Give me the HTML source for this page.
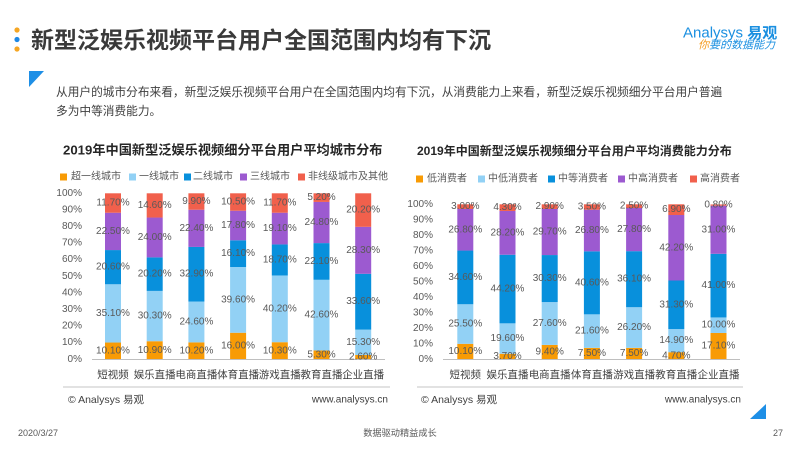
<!DOCTYPE html>
<html><head><meta charset="utf-8"><style>
html,body{margin:0;padding:0;background:#fff;}
svg{display:block;}
text{font-family:"Liberation Sans","Noto Sans CJK SC",sans-serif;}
.t{fill:#595959;font-size:10px;}
.yl{fill:#595959;font-size:10px;text-anchor:end;dominant-baseline:central;}
.bl{fill:#595959;font-size:10px;text-anchor:middle;dominant-baseline:central;}
.cl{fill:#404040;font-size:10.5px;text-anchor:middle;dominant-baseline:central;}
.lg{fill:#595959;font-size:10px;dominant-baseline:central;}
</style></head><body>
<svg width="800" height="450" viewBox="0 0 800 450" xmlns="http://www.w3.org/2000/svg">
<rect width="800" height="450" fill="#fff"/>
<!-- header -->
<circle cx="17" cy="30" r="2.6" fill="#f5a623"/>
<circle cx="17" cy="39.5" r="2.6" fill="#1e88e5"/>
<circle cx="17" cy="49" r="2.6" fill="#f5a623"/>
<text x="31" y="40" font-size="23" font-weight="bold" fill="#3a3a3a" dominant-baseline="central">新型泛娱乐视频平台用户全国范围内均有下沉</text>
<text x="683" y="33" font-size="15" fill="#1a8fe0" dominant-baseline="central">Analysys <tspan font-weight="bold">易观</tspan></text>
<text x="698" y="45.5" font-size="11" font-style="italic" fill="#1a8fe0" dominant-baseline="central"><tspan fill="#f39a1e">你</tspan>要的数据能力</text>
<polygon points="29,71 44,71 29,87" fill="#1e8fe6"/>
<text x="56" y="92.5" font-size="11.7" fill="#404040" dominant-baseline="central">从用户的城市分布来看，新型泛娱乐视频平台用户在全国范围内均有下沉，从消费能力上来看，新型泛娱乐视频细分平台用户普遍</text>
<text x="56" y="111.5" font-size="11.7" fill="#404040" dominant-baseline="central">多为中等消费能力。</text>

<!-- LEFT CHART -->
<text x="63" y="150" font-size="13.2" font-weight="bold" fill="#262626" dominant-baseline="central">2019年中国新型泛娱乐视频细分平台用户平均城市分布</text>
<rect x="60" y="173.5" width="7" height="7" fill="#f89b05"/><text class="lg" x="71" y="177">超一线城市</text>
<rect x="129" y="173.5" width="7" height="7" fill="#92d1f5"/><text class="lg" x="139" y="177">一线城市</text>
<rect x="184" y="173.5" width="7" height="7" fill="#0890dc"/><text class="lg" x="193" y="177">二线城市</text>
<rect x="240" y="173.5" width="7" height="7" fill="#9c5ad0"/><text class="lg" x="250" y="177">三线城市</text>
<rect x="298" y="173.5" width="7" height="7" fill="#f1604c"/><text class="lg" x="308" y="177">非线级城市及其他</text>

<text class="yl" x="82" y="359.3">0%</text>
<text class="yl" x="82" y="342.7">10%</text>
<text class="yl" x="82" y="326.1">20%</text>
<text class="yl" x="82" y="309.5">30%</text>
<text class="yl" x="82" y="292.9">40%</text>
<text class="yl" x="82" y="276.3">50%</text>
<text class="yl" x="82" y="259.7">60%</text>
<text class="yl" x="82" y="243.1">70%</text>
<text class="yl" x="82" y="226.5">80%</text>
<text class="yl" x="82" y="209.9">90%</text>
<text class="yl" x="82" y="193.3">100%</text>

<!-- bar1 -->
<rect x="105" y="342.53" width="16" height="16.77" fill="#f89b05"/>
<rect x="105" y="284.27" width="16" height="58.26" fill="#92d1f5"/>
<rect x="105" y="250.07" width="16" height="34.2" fill="#0890dc"/>
<rect x="105" y="212.72" width="16" height="37.35" fill="#9c5ad0"/>
<rect x="105" y="193.3" width="16" height="19.42" fill="#f1604c"/>
<!-- bar2 -->
<rect x="146.7" y="341.21" width="16" height="18.09" fill="#f89b05"/>
<rect x="146.7" y="290.91" width="16" height="50.3" fill="#92d1f5"/>
<rect x="146.7" y="257.38" width="16" height="33.53" fill="#0890dc"/>
<rect x="146.7" y="217.54" width="16" height="39.84" fill="#9c5ad0"/>
<rect x="146.7" y="193.3" width="16" height="24.24" fill="#f1604c"/>
<!-- bar3 -->
<rect x="188.4" y="342.37" width="16" height="16.93" fill="#f89b05"/>
<rect x="188.4" y="301.53" width="16" height="40.84" fill="#92d1f5"/>
<rect x="188.4" y="246.92" width="16" height="54.61" fill="#0890dc"/>
<rect x="188.4" y="209.73" width="16" height="37.19" fill="#9c5ad0"/>
<rect x="188.4" y="193.3" width="16" height="16.43" fill="#f1604c"/>
<!-- bar4 -->
<rect x="230.1" y="332.74" width="16" height="26.56" fill="#f89b05"/>
<rect x="230.1" y="267.0" width="16" height="65.74" fill="#92d1f5"/>
<rect x="230.1" y="240.28" width="16" height="26.72" fill="#0890dc"/>
<rect x="230.1" y="210.73" width="16" height="29.55" fill="#9c5ad0"/>
<rect x="230.1" y="193.3" width="16" height="17.43" fill="#f1604c"/>
<!-- bar5 -->
<rect x="271.8" y="342.2" width="16" height="17.1" fill="#f89b05"/>
<rect x="271.8" y="275.47" width="16" height="66.73" fill="#92d1f5"/>
<rect x="271.8" y="244.43" width="16" height="31.04" fill="#0890dc"/>
<rect x="271.8" y="212.72" width="16" height="31.71" fill="#9c5ad0"/>
<rect x="271.8" y="193.3" width="16" height="19.42" fill="#f1604c"/>
<!-- bar6 -->
<rect x="313.5" y="350.5" width="16" height="8.8" fill="#f89b05"/>
<rect x="313.5" y="279.79" width="16" height="70.71" fill="#92d1f5"/>
<rect x="313.5" y="243.1" width="16" height="36.69" fill="#0890dc"/>
<rect x="313.5" y="201.93" width="16" height="41.17" fill="#9c5ad0"/>
<rect x="313.5" y="193.3" width="16" height="8.63" fill="#f1604c"/>
<!-- bar7 -->
<rect x="355.2" y="354.98" width="16" height="4.32" fill="#f89b05"/>
<rect x="355.2" y="329.59" width="16" height="25.39" fill="#92d1f5"/>
<rect x="355.2" y="273.81" width="16" height="55.78" fill="#0890dc"/>
<rect x="355.2" y="226.83" width="16" height="46.98" fill="#9c5ad0"/>
<rect x="355.2" y="193.3" width="16" height="33.53" fill="#f1604c"/>

<line x1="92" y1="359.5" x2="385" y2="359.5" stroke="#bfbfbf" stroke-width="1"/>

<!-- left labels -->
<text class="bl" x="113" y="350.9">10.10%</text>
<text class="bl" x="113" y="313.4">35.10%</text>
<text class="bl" x="113" y="267.2">20.60%</text>
<text class="bl" x="113" y="231.4">22.50%</text>
<text class="bl" x="113" y="203.0">11.70%</text>

<text class="bl" x="154.7" y="350.3">10.90%</text>
<text class="bl" x="154.7" y="316.1">30.30%</text>
<text class="bl" x="154.7" y="274.1">20.20%</text>
<text class="bl" x="154.7" y="237.5">24.00%</text>
<text class="bl" x="154.7" y="205.4">14.60%</text>

<text class="bl" x="196.4" y="350.8">10.20%</text>
<text class="bl" x="196.4" y="322.0">24.60%</text>
<text class="bl" x="196.4" y="274.2">32.90%</text>
<text class="bl" x="196.4" y="228.3">22.40%</text>
<text class="bl" x="196.4" y="201.5">9.90%</text>

<text class="bl" x="238.1" y="346.0">16.00%</text>
<text class="bl" x="238.1" y="299.9">39.60%</text>
<text class="bl" x="238.1" y="253.6">16.10%</text>
<text class="bl" x="238.1" y="225.5">17.80%</text>
<text class="bl" x="238.1" y="202.0">10.50%</text>

<text class="bl" x="279.8" y="350.75">10.30%</text>
<text class="bl" x="279.8" y="308.8">40.20%</text>
<text class="bl" x="279.8" y="260.0">18.70%</text>
<text class="bl" x="279.8" y="228.6">19.10%</text>
<text class="bl" x="279.8" y="203.0">11.70%</text>

<text class="bl" x="321.5" y="354.9">5.30%</text>
<text class="bl" x="321.5" y="315.1">42.60%</text>
<text class="bl" x="321.5" y="261.4">22.10%</text>
<text class="bl" x="321.5" y="222.5">24.80%</text>
<text class="bl" x="321.5" y="197.6">5.20%</text>

<text class="bl" x="363.2" y="357.1">2.60%</text>
<text class="bl" x="363.2" y="342.3">15.30%</text>
<text class="bl" x="363.2" y="301.7">33.60%</text>
<text class="bl" x="363.2" y="250.3">28.30%</text>
<text class="bl" x="363.2" y="210.1">20.20%</text>

<text class="cl" x="113" y="375">短视频</text>
<text class="cl" x="154.7" y="375">娱乐直播</text>
<text class="cl" x="196.4" y="375">电商直播</text>
<text class="cl" x="238.1" y="375">体育直播</text>
<text class="cl" x="279.8" y="375">游戏直播</text>
<text class="cl" x="321.5" y="375">教育直播</text>
<text class="cl" x="363.2" y="375">企业直播</text>

<line x1="63" y1="387" x2="390" y2="387" stroke="#d9d9d9" stroke-width="1.5"/>
<text x="68" y="400" font-size="10.5" fill="#404040" dominant-baseline="central">© Analysys 易观</text>
<text x="388" y="400" font-size="10" fill="#404040" text-anchor="end" dominant-baseline="central">www.analysys.cn</text>

<!-- RIGHT CHART -->
<text x="417" y="151" font-size="12" font-weight="bold" fill="#262626" dominant-baseline="central">2019年中国新型泛娱乐视频细分平台用户平均消费能力分布</text>
<rect x="416" y="175.5" width="7" height="7" fill="#f89b05"/><text class="lg" x="427" y="179">低消费者</text>
<rect x="478" y="175.5" width="7" height="7" fill="#92d1f5"/><text class="lg" x="488" y="179">中低消费者</text>
<rect x="548" y="175.5" width="7" height="7" fill="#0890dc"/><text class="lg" x="558" y="179">中等消费者</text>
<rect x="618" y="175.5" width="7" height="7" fill="#9c5ad0"/><text class="lg" x="628" y="179">中高消费者</text>
<rect x="690" y="175.5" width="7" height="7" fill="#f1604c"/><text class="lg" x="700" y="179">高消费者</text>

<text class="yl" x="433" y="359.5">0%</text>
<text class="yl" x="433" y="344.0">10%</text>
<text class="yl" x="433" y="328.5">20%</text>
<text class="yl" x="433" y="312.9">30%</text>
<text class="yl" x="433" y="297.4">40%</text>
<text class="yl" x="433" y="281.9">50%</text>
<text class="yl" x="433" y="266.4">60%</text>
<text class="yl" x="433" y="250.9">70%</text>
<text class="yl" x="433" y="235.3">80%</text>
<text class="yl" x="433" y="219.8">90%</text>
<text class="yl" x="433" y="204.3">100%</text>

<!-- r bar1 -->
<rect x="457.3" y="343.82" width="16" height="15.68" fill="#f89b05"/>
<rect x="457.3" y="304.25" width="16" height="39.57" fill="#92d1f5"/>
<rect x="457.3" y="250.55" width="16" height="53.7" fill="#0890dc"/>
<rect x="457.3" y="208.96" width="16" height="41.59" fill="#9c5ad0"/>
<rect x="457.3" y="204.3" width="16" height="4.66" fill="#f1604c"/>
<!-- r bar2 -->
<rect x="499.5" y="353.76" width="16" height="5.74" fill="#f89b05"/>
<rect x="499.5" y="323.34" width="16" height="30.42" fill="#92d1f5"/>
<rect x="499.5" y="254.74" width="16" height="68.6" fill="#0890dc"/>
<rect x="499.5" y="210.97" width="16" height="43.77" fill="#9c5ad0"/>
<rect x="499.5" y="204.3" width="16" height="6.67" fill="#f1604c"/>
<!-- r bar3 -->
<rect x="541.7" y="344.91" width="16" height="14.59" fill="#f89b05"/>
<rect x="541.7" y="302.08" width="16" height="42.83" fill="#92d1f5"/>
<rect x="541.7" y="255.05" width="16" height="47.03" fill="#0890dc"/>
<rect x="541.7" y="208.96" width="16" height="46.09" fill="#9c5ad0"/>
<rect x="541.7" y="204.3" width="16" height="4.66" fill="#f1604c"/>
<!-- r bar4 -->
<rect x="583.9" y="347.86" width="16" height="11.64" fill="#f89b05"/>
<rect x="583.9" y="314.34" width="16" height="33.52" fill="#92d1f5"/>
<rect x="583.9" y="251.33" width="16" height="63.01" fill="#0890dc"/>
<rect x="583.9" y="209.73" width="16" height="41.6" fill="#9c5ad0"/>
<rect x="583.9" y="204.3" width="16" height="5.43" fill="#f1604c"/>
<!-- r bar5 -->
<rect x="626.1" y="347.86" width="16" height="11.64" fill="#f89b05"/>
<rect x="626.1" y="307.2" width="16" height="40.66" fill="#92d1f5"/>
<rect x="626.1" y="251.17" width="16" height="56.03" fill="#0890dc"/>
<rect x="626.1" y="208.02" width="16" height="43.15" fill="#9c5ad0"/>
<rect x="626.1" y="204.3" width="16" height="3.72" fill="#f1604c"/>
<!-- r bar6 -->
<rect x="668.3" y="352.21" width="16" height="7.29" fill="#f89b05"/>
<rect x="668.3" y="329.08" width="16" height="23.13" fill="#92d1f5"/>
<rect x="668.3" y="280.5" width="16" height="48.58" fill="#0890dc"/>
<rect x="668.3" y="215.01" width="16" height="65.49" fill="#9c5ad0"/>
<rect x="668.3" y="204.3" width="16" height="10.71" fill="#f1604c"/>
<!-- r bar7 -->
<rect x="710.5" y="332.96" width="16" height="26.54" fill="#f89b05"/>
<rect x="710.5" y="317.44" width="16" height="15.52" fill="#92d1f5"/>
<rect x="710.5" y="253.81" width="16" height="63.63" fill="#0890dc"/>
<rect x="710.5" y="205.7" width="16" height="48.11" fill="#9c5ad0"/>
<rect x="710.5" y="204.45" width="16" height="1.25" fill="#f1604c"/>

<line x1="443" y1="359.5" x2="740" y2="359.5" stroke="#bfbfbf" stroke-width="1"/>

<text class="bl" x="465.3" y="351.7">10.10%</text>
<text class="bl" x="465.3" y="324.0">25.50%</text>
<text class="bl" x="465.3" y="277.4">34.60%</text>
<text class="bl" x="465.3" y="229.8">26.80%</text>
<text class="bl" x="465.3" y="206.6">3.00%</text>

<text class="bl" x="507.5" y="356.6">3.70%</text>
<text class="bl" x="507.5" y="338.6">19.60%</text>
<text class="bl" x="507.5" y="289.0">44.20%</text>
<text class="bl" x="507.5" y="232.9">28.20%</text>
<text class="bl" x="507.5" y="207.6">4.30%</text>

<text class="bl" x="549.7" y="352.2">9.40%</text>
<text class="bl" x="549.7" y="323.5">27.60%</text>
<text class="bl" x="549.7" y="278.6">30.30%</text>
<text class="bl" x="549.7" y="232.0">29.70%</text>
<text class="bl" x="549.7" y="206.6">2.90%</text>

<text class="bl" x="591.9" y="353.7">7.50%</text>
<text class="bl" x="591.9" y="331.1">21.60%</text>
<text class="bl" x="591.9" y="282.8">40.60%</text>
<text class="bl" x="591.9" y="230.5">26.80%</text>
<text class="bl" x="591.9" y="207.0">3.50%</text>

<text class="bl" x="634.1" y="353.7">7.50%</text>
<text class="bl" x="634.1" y="327.5">26.20%</text>
<text class="bl" x="634.1" y="279.2">36.10%</text>
<text class="bl" x="634.1" y="229.6">27.80%</text>
<text class="bl" x="634.1" y="206.2">2.50%</text>

<text class="bl" x="676.3" y="355.9">4.70%</text>
<text class="bl" x="676.3" y="340.6">14.90%</text>
<text class="bl" x="676.3" y="304.8">31.30%</text>
<text class="bl" x="676.3" y="247.8">42.20%</text>
<text class="bl" x="676.3" y="209.7">6.90%</text>

<text class="bl" x="718.5" y="346.2">17.10%</text>
<text class="bl" x="718.5" y="325.2">10.00%</text>
<text class="bl" x="718.5" y="285.6">41.00%</text>
<text class="bl" x="718.5" y="229.8">31.00%</text>
<text class="bl" x="718.5" y="205.0">0.80%</text>

<text class="cl" x="465.3" y="375">短视频</text>
<text class="cl" x="507.5" y="375">娱乐直播</text>
<text class="cl" x="549.7" y="375">电商直播</text>
<text class="cl" x="591.9" y="375">体育直播</text>
<text class="cl" x="634.1" y="375">游戏直播</text>
<text class="cl" x="676.3" y="375">教育直播</text>
<text class="cl" x="718.5" y="375">企业直播</text>

<line x1="417" y1="387" x2="743" y2="387" stroke="#d9d9d9" stroke-width="1.5"/>
<text x="421" y="400" font-size="10.5" fill="#404040" dominant-baseline="central">© Analysys 易观</text>
<text x="741" y="400" font-size="10" fill="#404040" text-anchor="end" dominant-baseline="central">www.analysys.cn</text>

<polygon points="766,404 766,419 750,419" fill="#1e8fe6"/>

<!-- footer -->
<text x="18" y="433" font-size="9" fill="#595959" dominant-baseline="central">2020/3/27</text>
<text x="400" y="433" font-size="9.2" fill="#595959" text-anchor="middle" dominant-baseline="central">数据驱动精益成长</text>
<text x="783" y="433" font-size="9" fill="#595959" text-anchor="end" dominant-baseline="central">27</text>
</svg>
</body></html>
